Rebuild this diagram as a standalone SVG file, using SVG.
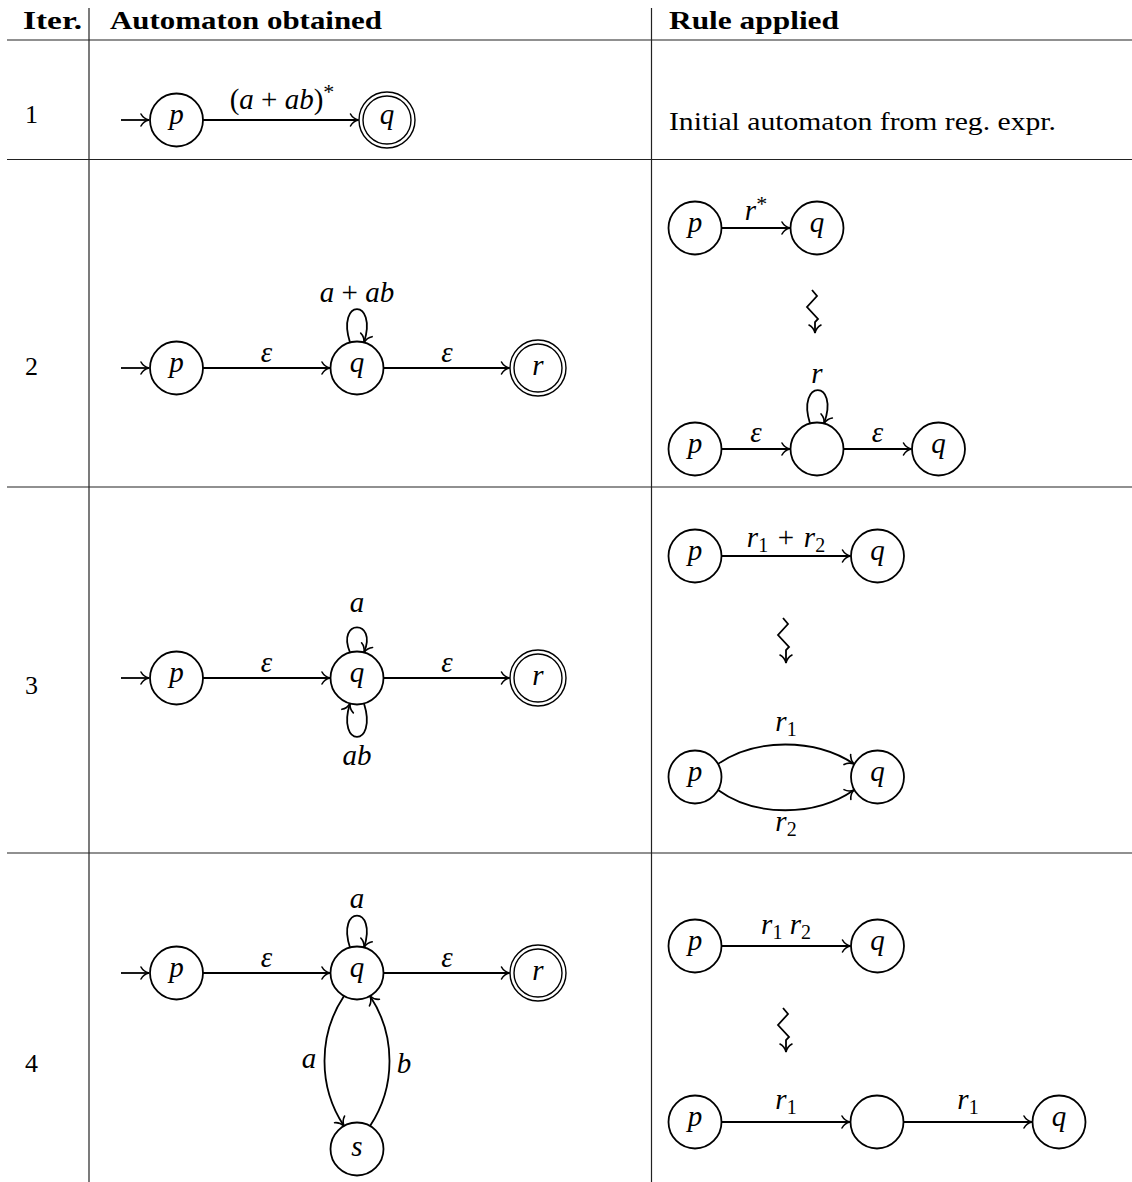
<svg xmlns="http://www.w3.org/2000/svg" width="1132" height="1182" viewBox="0 0 1132 1182">
<defs>
<marker id="arr" markerUnits="userSpaceOnUse" viewBox="-10 -8 12 16" markerWidth="12" markerHeight="16" refX="0" refY="0" orient="auto" overflow="visible">
<path d="M -8 -6 C -6 -2.2 -2.5 -0.6 0 0 C -2.5 0.6 -6 2.2 -8 6" fill="none" stroke="#000" stroke-width="1.6" stroke-linecap="round"/>
</marker>
</defs>
<style>
.tl{stroke:#222;stroke-width:1.2}
.st{fill:#fff;stroke:#000;stroke-width:1.8}
.acc{fill:none;stroke:#000;stroke-width:1.4}
.e{fill:none;stroke:#000;stroke-width:1.8;marker-end:url(#arr)}
.sq{fill:none;stroke:#000;stroke-width:1.8;stroke-linejoin:miter;marker-end:url(#arr)}
.m{font-family:"Liberation Serif",serif;font-size:29px;font-style:italic;text-anchor:middle}
.t{font-family:"Liberation Serif",serif;font-size:26px}
.h{font-family:"Liberation Serif",serif;font-size:26px;font-weight:bold}
.u{font-style:normal}
.sub{font-size:20px;font-style:normal}
.star{font-size:22px;font-style:normal}
</style>
<rect width="1132" height="1182" fill="#fff"/>
<g id="table">
<line class="tl" x1="89" y1="8" x2="89" y2="1182"/>
<line class="tl" x1="651.5" y1="8" x2="651.5" y2="1182"/>
<line class="tl" x1="7" y1="40" x2="1132" y2="40"/>
<line class="tl" x1="7" y1="159.5" x2="1132" y2="159.5"/>
<line class="tl" x1="7" y1="487" x2="1132" y2="487"/>
<line class="tl" x1="7" y1="853" x2="1132" y2="853"/>
<text class="h" x="23" y="29" textLength="59" lengthAdjust="spacingAndGlyphs">Iter.</text>
<text class="h" x="110" y="29" textLength="272" lengthAdjust="spacingAndGlyphs">Automaton obtained</text>
<text class="h" x="669" y="29" textLength="170" lengthAdjust="spacingAndGlyphs">Rule applied</text>
<text class="t" x="25" y="123">1</text>
<text class="t" x="25" y="375">2</text>
<text class="t" x="25" y="694">3</text>
<text class="t" x="25" y="1072">4</text>
<text class="t" x="669" y="130" textLength="387" lengthAdjust="spacingAndGlyphs">Initial automaton from reg. expr.</text>
</g>

<!-- Row 1 -->
<g id="r1-p"><circle class="st" cx="176.5" cy="120" r="26.5"/><text class="m" x="176.5" y="124">p</text></g>
<g id="r1-q"><circle class="acc" cx="387" cy="120" r="28"/><circle class="acc" cx="387" cy="120" r="24"/><text class="m" x="387" y="124">q</text></g>

<!-- Row 2 left -->
<g id="r2-p"><circle class="st" cx="176.5" cy="368" r="26.5"/><text class="m" x="176.5" y="372">p</text></g>
<g id="r2-q"><circle class="st" cx="357" cy="368" r="26.5"/><text class="m" x="357" y="372">q</text></g>
<g id="r2-r"><circle class="acc" cx="538" cy="368" r="28"/><circle class="acc" cx="538" cy="368" r="24"/><text class="m" x="538" y="375">r</text></g>

<!-- Row 2 right -->
<g id="r2b-p1"><circle class="st" cx="695" cy="228" r="26.5"/><text class="m" x="695" y="232">p</text></g>
<g id="r2b-q1"><circle class="st" cx="817" cy="228" r="26.5"/><text class="m" x="817" y="232">q</text></g>
<g id="r2b-p2"><circle class="st" cx="695" cy="449" r="26.5"/><text class="m" x="695" y="453">p</text></g>
<g id="r2b-m"><circle class="st" cx="817" cy="449" r="26.5"/></g>
<g id="r2b-q2"><circle class="st" cx="938.5" cy="449" r="26.5"/><text class="m" x="938.5" y="453">q</text></g>

<!-- Row 3 left -->
<g id="r3-p"><circle class="st" cx="176.5" cy="678" r="26.5"/><text class="m" x="176.5" y="682">p</text></g>
<g id="r3-q"><circle class="st" cx="357" cy="678" r="26.5"/><text class="m" x="357" y="682">q</text></g>
<g id="r3-r"><circle class="acc" cx="538" cy="678" r="28"/><circle class="acc" cx="538" cy="678" r="24"/><text class="m" x="538" y="685">r</text></g>

<!-- Row 3 right -->
<g id="r3b-p1"><circle class="st" cx="695" cy="556" r="26.5"/><text class="m" x="695" y="560">p</text></g>
<g id="r3b-q1"><circle class="st" cx="877.5" cy="556" r="26.5"/><text class="m" x="877.5" y="560">q</text></g>
<g id="r3b-p2"><circle class="st" cx="695" cy="777" r="26.5"/><text class="m" x="695" y="781">p</text></g>
<g id="r3b-q2"><circle class="st" cx="877.5" cy="777" r="26.5"/><text class="m" x="877.5" y="781">q</text></g>

<!-- Row 4 left -->
<g id="r4-p"><circle class="st" cx="176.5" cy="973" r="26.5"/><text class="m" x="176.5" y="977">p</text></g>
<g id="r4-q"><circle class="st" cx="357" cy="973" r="26.5"/><text class="m" x="357" y="977">q</text></g>
<g id="r4-r"><circle class="acc" cx="538" cy="973" r="28"/><circle class="acc" cx="538" cy="973" r="24"/><text class="m" x="538" y="980">r</text></g>
<g id="r4-s"><circle class="st" cx="357" cy="1149" r="26.5"/><text class="m" x="357" y="1156">s</text></g>

<!-- Row 4 right -->
<g id="r4b-p1"><circle class="st" cx="695" cy="946" r="26.5"/><text class="m" x="695" y="950">p</text></g>
<g id="r4b-q1"><circle class="st" cx="877.5" cy="946" r="26.5"/><text class="m" x="877.5" y="950">q</text></g>
<g id="r4b-p2"><circle class="st" cx="695" cy="1122" r="26.5"/><text class="m" x="695" y="1126">p</text></g>
<g id="r4b-m"><circle class="st" cx="877" cy="1122" r="26.5"/></g>
<g id="r4b-q2"><circle class="st" cx="1059" cy="1122" r="26.5"/><text class="m" x="1059" y="1126">q</text></g>

<g id="connectors">
<!-- row 1 -->
<path class="e" d="M121 120 H149"/>
<path class="e" d="M203 120 H358.5"/>
<text class="m" x="282" y="109" xml:space="preserve"><tspan class="u">(</tspan>a<tspan class="u">&#8197;+&#8197;</tspan>ab<tspan class="u">)</tspan><tspan class="star" dy="-10">*</tspan></text>

<!-- row 2 left -->
<path class="e" d="M121 368 H149"/>
<path class="e" d="M203 368 H330"/>
<path class="e" d="M383.5 368 H509.5"/>
<path class="e" d="M350 342.5 C336 298 378 298 364 342.5"/>
<text class="m" x="266.5" y="362">ε</text>
<text class="m" x="447" y="362">ε</text>
<text class="m" x="357" y="302" xml:space="preserve">a<tspan class="u">&#8197;+&#8197;</tspan>ab</text>

<!-- row 2 right -->
<path class="e" d="M721.5 228 H790"/>
<text class="m" x="756" y="220">r<tspan class="star" dy="-9">*</tspan></text>
<path class="sq" d="M812 290 L817 296 L807 307 L818 319 L815 322 L815 333"/>
<path class="e" d="M721.5 449 H790"/>
<path class="e" d="M843.5 449 H911.5"/>
<path class="e" d="M810 423.5 C796 379 840 379 824 423.5"/>
<text class="m" x="756" y="442">ε</text>
<text class="m" x="877.5" y="442">ε</text>
<text class="m" x="817" y="383">r</text>

<!-- row 3 left -->
<path class="e" d="M121 678 H149"/>
<path class="e" d="M203 678 H330"/>
<path class="e" d="M383.5 678 H509.5"/>
<path class="e" d="M350 652.5 C336 619 378 619 364 652.5"/>
<path class="e" d="M364 703.5 C378 748 336 748 350 703.5"/>
<text class="m" x="266.5" y="672">ε</text>
<text class="m" x="447" y="672">ε</text>
<text class="m" x="357" y="612">a</text>
<text class="m" x="357" y="765">ab</text>

<!-- row 3 right -->
<path class="e" d="M721.5 556 H850.5"/>
<text class="m" x="786" y="547" xml:space="preserve">r<tspan class="sub" dy="5">1</tspan><tspan class="u" dy="-5">&#8196;+&#8196;</tspan>r<tspan class="sub" dy="5">2</tspan></text>
<path class="sq" d="M783 618 L788 624 L778 635 L789 647 L786 650 L786 663"/>
<path class="e" d="M718 764 C755 738 815 738 854 764"/>
<path class="e" d="M718 790 C755 817 815 817 854 790"/>
<text class="m" x="786" y="731">r<tspan class="sub" dy="5">1</tspan></text>
<text class="m" x="786" y="831">r<tspan class="sub" dy="5">2</tspan></text>

<!-- row 4 left -->
<path class="e" d="M121 973 H149"/>
<path class="e" d="M203 973 H330"/>
<path class="e" d="M383.5 973 H509.5"/>
<path class="e" d="M350 947.5 C336 905 378 905 364 947.5"/>
<path class="e" d="M344 996 C318 1035 318 1087 344 1126"/>
<path class="e" d="M370 1126 C396 1087 396 1035 370 996"/>
<text class="m" x="266.5" y="967">ε</text>
<text class="m" x="447" y="967">ε</text>
<text class="m" x="357" y="908">a</text>
<text class="m" x="309" y="1068">a</text>
<text class="m" x="404" y="1073">b</text>

<!-- row 4 right -->
<path class="e" d="M721.5 946 H850.5"/>
<text class="m" x="786" y="934" xml:space="preserve">r<tspan class="sub" dy="5">1</tspan><tspan dy="-5">&#8197;</tspan>r<tspan class="sub" dy="5">2</tspan></text>
<path class="sq" d="M783 1008 L788 1014 L778 1025 L789 1037 L786 1040 L786 1052"/>
<path class="e" d="M721.5 1122 H850"/>
<path class="e" d="M903.5 1122 H1032"/>
<text class="m" x="786" y="1109">r<tspan class="sub" dy="5">1</tspan></text>
<text class="m" x="968" y="1109">r<tspan class="sub" dy="5">1</tspan></text>
</g>
</svg>
